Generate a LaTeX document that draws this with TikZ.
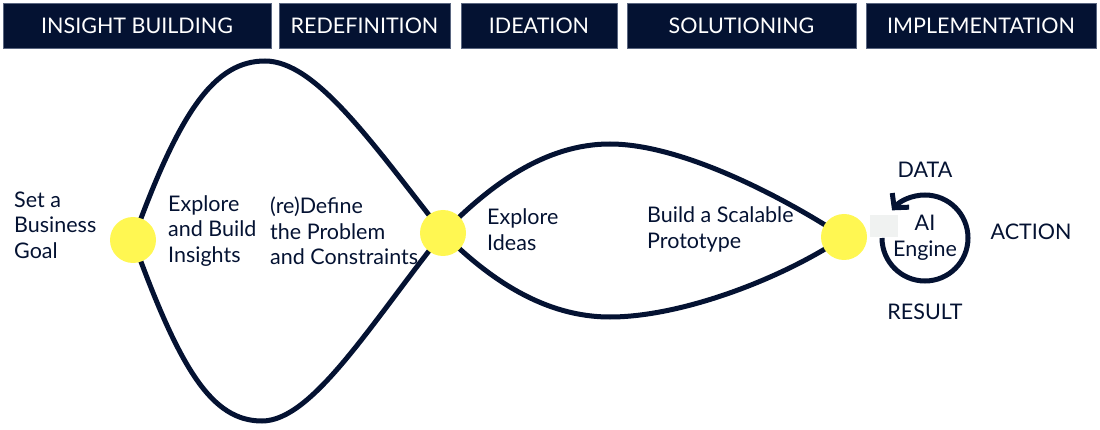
\documentclass[tikz,border=0pt]{standalone}
\usepackage{fontspec}
\setmainfont{Lato}
\usetikzlibrary{arrows.meta,calc}
\definecolor{navy}{HTML}{041232}
\definecolor{edge}{HTML}{5A6680}
\definecolor{sun}{HTML}{FFF752}
\definecolor{haze}{HTML}{F0F2F1}
\begin{document}
\begin{tikzpicture}[x=1pt,y=-1pt,
  phase/.style={fill=navy, draw=edge, line width=0.8pt, text=white,
    font=\fontsize{21.5}{24}\selectfont, inner sep=0pt, minimum height=45pt},
  label/.style={text=navy, font=\fontsize{21.5}{25.5}\selectfont, inner sep=0pt},
  note/.style={label, align=left, anchor=west},
  path/.style={draw=navy, line width=5pt},
  dot/.style={circle, fill=sun, minimum size=46pt, inner sep=0pt}]
\useasboundingbox (0,0) rectangle (1100,430);

% phase headers
\node[phase, minimum width=268pt] (h1) at (137,25.5) {INSIGHT BUILDING};
\node[phase, minimum width=171pt] (h2) at (364.5,25.5) {REDEFINITION};
\node[phase, minimum width=156pt] (h3) at (539,25.5) {IDEATION};
\node[phase, minimum width=229pt] (h4) at (741.5,25.5) {SOLUTIONING};
\node[phase, minimum width=230pt] (h5) at (981,25.5) {IMPLEMENTATION};

% milestone positions and curve extremes
\coordinate (p0) at (133,240);
\coordinate (p1) at (443,233);
\coordinate (p2) at (844,237);
\coordinate (t1) at (265,61);
\coordinate (b1) at (262,421);
\coordinate (t2) at (610,144);
\coordinate (b2) at (610,317);

% diverge / converge loops
\draw[path] (p0) .. controls (180,110) and (215,61) .. (t1)
  .. controls (315,61) and (370,140) .. (p1);
\draw[path] (p0) .. controls (180,370) and (212,421) .. (b1)
  .. controls (312,421) and (370,325) .. (p1);
\draw[path] (p1) .. controls (490,185) and (545,144) .. (t2)
  .. controls (680,144) and (780,195) .. (p2);
\draw[path] (p1) .. controls (490,280) and (545,317) .. (b2)
  .. controls (680,317) and (780,280) .. (p2);

% milestones
\node[dot] (g0) at (p0) {};
\node[dot] (g1) at (p1) {};
\node[dot] (g2) at (p2) {};

% stage texts
\node[note] (goal) at (14,225) {Set a\\Business\\Goal};
\node[note] (insight) at (168,231) {Explore\\and Build\\Insights};
\node[note] (redefine) at (270,231) {(re)Define\\the Problem\\and Constraints};
\node[note] (ideas) at (487,229.5) {Explore\\Ideas};
\node[note] (proto) at (647,229.5) {Build a Scalable\\Prototype};

% AI engine cycle
\coordinate (eng) at (925,238);
\draw[path, -{Straight Barb[length=10pt, width=22pt]}]
  ($(eng)+(-43,0)$) arc[start angle=-180, end angle=-500, radius=43];
\node[fill=haze, minimum width=28pt, minimum height=22pt, inner sep=0pt] (patch) at (884,226) {};
\node[label, align=center] (ai) at (eng) {AI\\Engine};
\node[label] (data) at (925,170) {DATA};
\node[label] (action) at (1031,232) {ACTION};
\node[label] (result) at (925,312) {RESULT};
\end{tikzpicture}
\end{document}
